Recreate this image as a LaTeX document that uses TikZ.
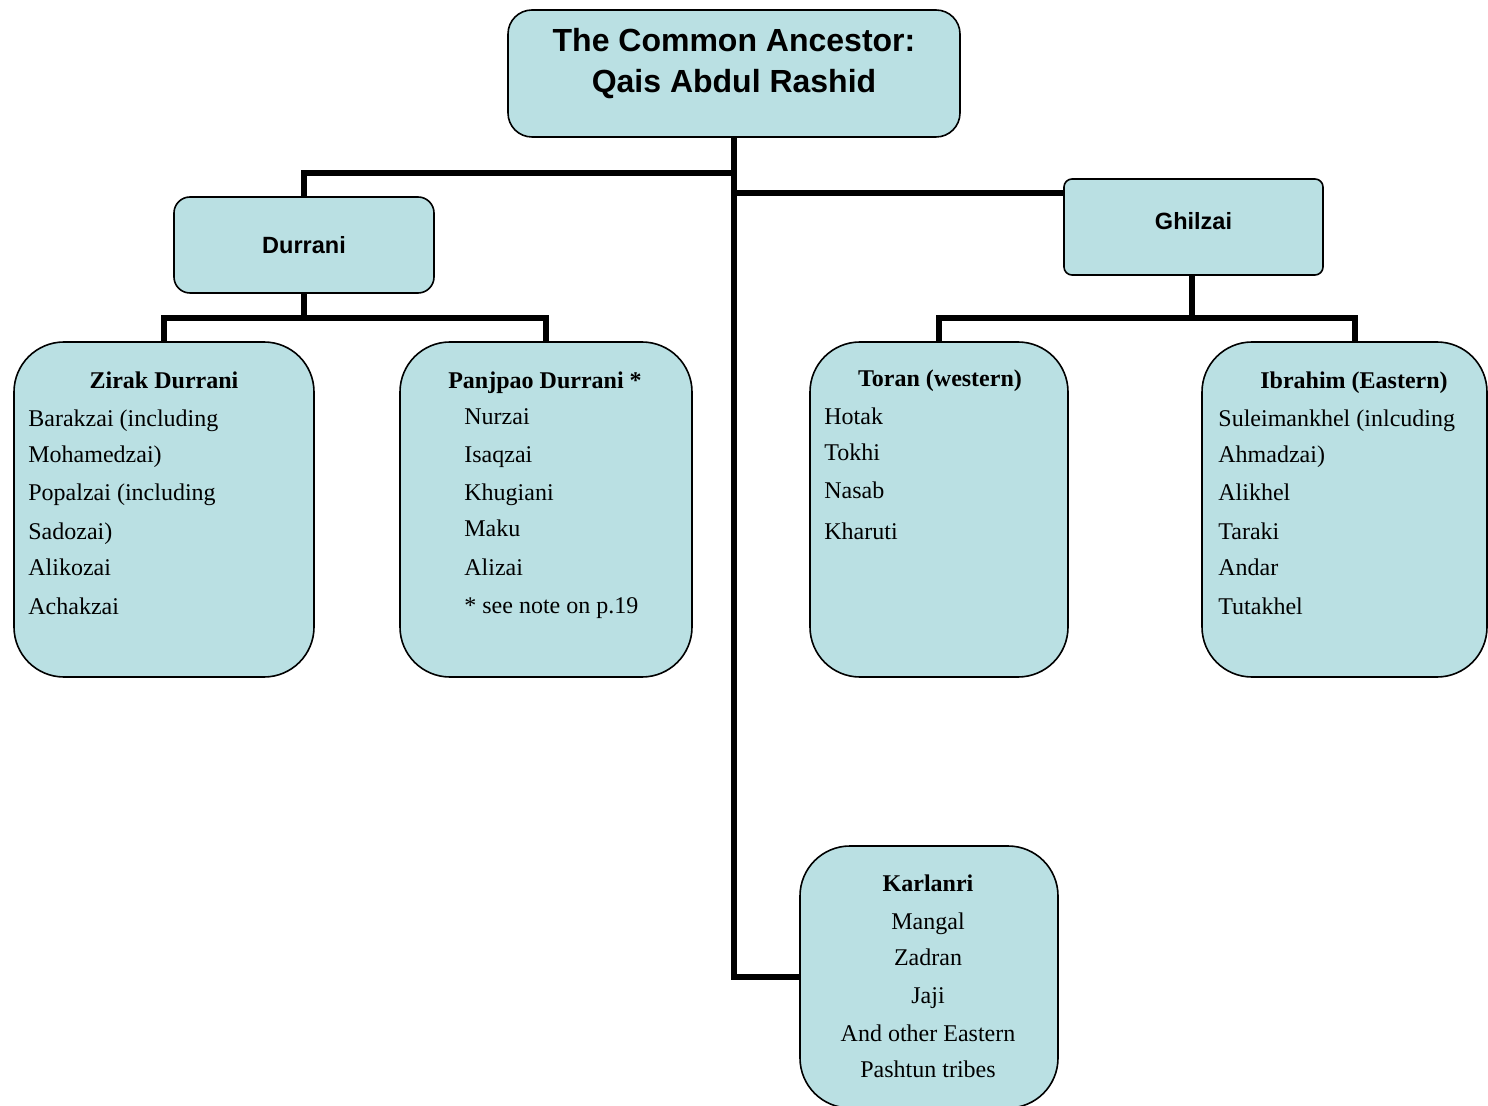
\documentclass[tikz,border=0pt]{standalone}
\usepackage{fontspec}
\setmainfont{Liberation Serif}
\newfontfamily\arialf{Liberation Sans}
\definecolor{boxfill}{RGB}{186,224,227}
\begin{document}
\begin{tikzpicture}[x=0.5pt,y=-0.5pt,
  box/.style={draw=black, line width=0.8pt, fill=boxfill, inner sep=0pt},
  bigbox/.style={box, rounded corners=25pt, minimum height=167.5pt},
  conn/.style={line width=3pt, line join=miter},
  toptxt/.style={font=\arialf\bfseries\fontsize{16}{19}\selectfont, anchor=base},
  hd/.style={font=\arialf\bfseries\fontsize{11.75}{14}\selectfont, anchor=base},
  ttl/.style={font=\bfseries\fontsize{12}{14}\selectfont, anchor=base, inner sep=0pt, yshift=-1pt},
  itm/.style={font=\fontsize{12}{14}\selectfont, anchor=base west, inner sep=0pt, yshift=-1pt},
  ctr/.style={font=\fontsize{12}{14}\selectfont, anchor=base, inner sep=0pt, yshift=-1pt}]
\useasboundingbox (0,0) rectangle (1488,1106);
\clip (0,0) rectangle (1488,1106);

% boxes
\node[box, rounded corners=12pt, minimum width=226pt, minimum height=63.5pt] (top) at (734,73.5) {};
\node[box, rounded corners=8pt, minimum width=130pt, minimum height=48pt] (durrani) at (304,245) {};
\node[box, rounded corners=4pt, minimum width=129.5pt, minimum height=48pt] (ghilzai) at (1193.5,227) {};
\node[bigbox, minimum width=150pt] (zirak) at (164,509.5) {};
\node[bigbox, minimum width=146pt] (panjpao) at (546,509.5) {};
\node[bigbox, minimum width=129pt] (toran) at (939,509.5) {};
\node[bigbox, minimum width=142.5pt] (ibrahim) at (1344.5,509.5) {};
\node[box, rounded corners=25pt, minimum width=129pt, minimum height=131pt] (karlanri) at (929,977) {};

% junction coordinates
\coordinate (jd) at (734,173);
\coordinate (jg) at (734,193);
\coordinate (dj) at (304,318);
\coordinate (gj) at (1192,318);
\coordinate (ibx) at (1355,342);

% connectors
\draw[conn] (top.south) |- (karlanri.west);
\draw[conn] (jd) -| (durrani.north);
\draw[conn] (jg) -- (ghilzai.west |- jg);
\draw[conn] (durrani.south) -- (dj);
\draw[conn] (zirak.north) -- (zirak.north |- dj) -- (panjpao.north |- dj) -- (panjpao.north);
\draw[conn] (ghilzai.south -| gj) -- (gj);
\draw[conn] (toran.north) -- (toran.north |- gj) -- (ibx |- gj) -- (ibx);

% texts
\node[toptxt] (t1) at (734,52) {The Common Ancestor:};
\node[toptxt] (t2) at (734,93) {Qais Abdul Rashid};
\node[hd] (durranit) at (304,253.5) {Durrani};
\node[hd] (ghilzait) at (1193.5,230) {Ghilzai};

\node[ttl] (z0) at (164,387) {Zirak Durrani};
\node[itm] (z1) at (28,425) {Barakzai (including};
\node[itm] (z2) at (28,461) {Mohamedzai)};
\node[itm] (z3) at (28,499) {Popalzai (including};
\node[itm] (z4) at (28,537) {Sadozai)};
\node[itm] (z5) at (28,573) {Alikozai};
\node[itm] (z6) at (28,613) {Achakzai};

\node[ttl] (p0) at (545,387) {Panjpao Durrani *};
\node[itm] (p1) at (464,423) {Nurzai};
\node[itm] (p2) at (464,461) {Isaqzai};
\node[itm] (p3) at (464,499) {Khugiani};
\node[itm] (p4) at (464,535) {Maku};
\node[itm] (p5) at (464,573) {Alizai};
\node[itm] (p6) at (464,611) {* see note on p.19};

\node[ttl] (o0) at (940,385) {Toran (western)};
\node[itm] (o1) at (824,423) {Hotak};
\node[itm] (o2) at (824,459) {Tokhi};
\node[itm] (o3) at (824,497) {Nasab};
\node[itm] (o4) at (824,537) {Kharuti};

\node[ttl] (i0) at (1354,387) {Ibrahim (Eastern)};
\node[itm] (i1) at (1218,425) {Suleimankhel (inlcuding};
\node[itm] (i2) at (1218,461) {Ahmadzai)};
\node[itm] (i3) at (1218,499) {Alikhel};
\node[itm] (i4) at (1218,537) {Taraki};
\node[itm] (i5) at (1218,573) {Andar};
\node[itm] (i6) at (1218,613) {Tutakhel};

\node[ttl] (k0) at (928,889) {Karlanri};
\node[ctr] (k1) at (928,927) {Mangal};
\node[ctr] (k2) at (928,963) {Zadran};
\node[ctr] (k3) at (928,1001) {Jaji};
\node[ctr] (k4) at (928,1039) {And other Eastern};
\node[ctr] (k5) at (928,1075) {Pashtun tribes};
\end{tikzpicture}
\end{document}
